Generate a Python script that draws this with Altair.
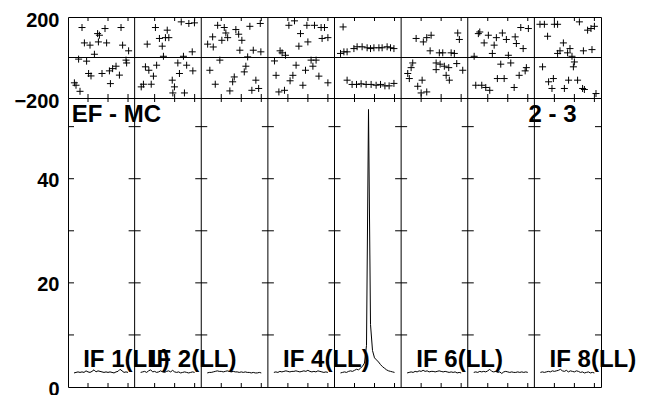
import altair as alt
import pandas as pd

# ---- layout constants (channel units per IF panel) ----
W = 33.3
N_IF = 8

# ---- data ----
CHANNELS = [3, 4, 5, 6, 7, 8, 9, 10, 11, 12, 13, 14, 15, 16,
            17, 18, 19, 20, 21, 22, 23, 24, 25, 26, 27, 28, 29, 30]

AMP_IF1 = [2.7, 2.8, 2.9, 2.8, 2.9, 2.8, 3.1, 2.9, 2.8, 3.0, 3.3, 2.9, 3.1, 3.0,
           2.9, 2.8, 2.9, 2.8, 2.9, 2.8, 2.7, 2.9, 3.0, 3.4, 3.1, 2.8, 2.9, 2.8]
AMP_IF2 = [2.8, 2.9, 3.0, 2.8, 3.1, 3.3, 2.9, 3.0, 2.8, 2.9, 3.1, 2.9, 2.8, 3.0,
           3.1, 2.9, 3.2, 2.9, 2.8, 2.9, 2.7, 2.8, 2.9, 2.8, 2.7, 2.8, 2.9, 2.8]
AMP_IF3 = [2.7, 2.8, 2.8, 2.9, 3.0, 3.1, 3.0, 3.0, 2.9, 3.0, 3.1, 3.0, 2.9, 3.0,
           2.9, 2.9, 2.8, 2.9, 2.8, 2.9, 2.8, 2.8, 2.7, 2.8, 2.7, 2.7, 2.8, 2.7]
AMP_IF4 = [2.8, 2.9, 2.8, 3.0, 2.9, 3.0, 3.1, 3.0, 2.9, 3.0, 3.0, 3.1, 3.0, 2.9,
           3.0, 3.1, 3.0, 3.2, 3.0, 2.9, 3.0, 2.9, 3.1, 3.0, 2.9, 2.8, 2.9, 2.8]
AMP_IF5 = [2.7, 2.8, 2.9, 2.8, 3.0, 3.1, 3.0, 3.2, 3.4, 3.3, 3.6, 4.0, 4.6, 8.0,
           53.3, 12.0, 7.0, 5.6, 5.2, 4.8, 4.3, 3.9, 3.6, 3.3, 3.1, 3.0, 2.9, 2.8]
AMP_IF6 = [2.7, 2.8, 2.9, 2.8, 3.0, 2.9, 3.1, 3.0, 3.2, 3.0, 3.1, 2.9, 3.0, 3.0,
           2.9, 3.0, 3.1, 3.0, 2.9, 3.0, 2.9, 2.8, 2.9, 2.8, 2.9, 2.7, 2.8, 2.7]
AMP_IF7 = [2.8, 2.9, 2.8, 3.0, 2.9, 3.0, 2.9, 3.1, 3.4, 3.0, 2.9, 3.0, 2.8, 2.9,
           2.6, 2.9, 3.0, 2.9, 2.8, 2.9, 2.8, 2.8, 2.9, 2.8, 2.9, 2.8, 2.9, 2.8]
AMP_IF8 = [2.8, 2.9, 2.8, 2.9, 3.0, 2.9, 3.1, 3.0, 3.1, 3.2, 3.4, 3.1, 3.0, 3.2,
           2.9, 3.1, 3.0, 2.9, 3.1, 3.0, 2.8, 2.9, 2.7, 2.8, 2.9, 2.7, 2.8, 2.7]

# phase points per IF: (channel, phase in degrees)
PH_IF1 = [(7, 148), (14.8, 118), (15.7, 110), (18.5, 143), (26.5, 148), (8.2, 72),
          (11, 61), (15.2, 77), (19.3, 72), (27.3, 61), (30.3, 33), (13.2, 16),
          (5.3, -8), (9.3, -18), (29, -13), (29.3, -27), (10.3, -79), (11.5, -91),
          (17, -79), (20.7, -66), (22.3, -55), (24, -43), (25.7, -87), (21.2, -129),
          (3.2, -125), (4, -137), (6, -167)]
PH_IF2 = [(10.4, 148), (23.3, 176), (27.1, 168), (29.9, 171), (16.3, 135), (12.4, 94),
          (15.4, 98), (17.1, 98), (6.3, 66), (13.8, 56), (28.8, 28), (14.4, 6),
          (24.4, 6), (5.4, -46), (7.1, -63), (11, -38), (9.4, -92), (4.4, -132),
          (3.3, -145), (8.3, -132), (21.6, -27), (26, -38), (29.1, -66), (22.4, -79),
          (18.8, -112), (19.9, -145), (19.1, -175), (24.9, -175)]
PH_IF3 = [(8.2, 159), (11.5, 148), (12.3, 121), (13.2, 98), (5.7, 102), (3.2, 66),
          (6, 52), (10.3, 85), (17.3, 138), (18.7, 115), (20.3, 85), (24.3, 154),
          (29.5, 168), (19.3, 36), (26, 36), (29.8, 28), (23.2, 3), (9.3, -13),
          (4.3, -63), (22.3, -43), (21.5, -71), (16.5, -96), (15.7, -120), (7, -132),
          (14.3, -165), (27.3, -112), (28.7, -153), (25.3, -162)]
PH_IF4 = [(10.5, 159), (13.3, 181), (19.5, 159), (23.3, 159), (26.6, 148), (28.3, 148),
          (16.3, 118), (27.1, 94), (30, 98), (20, 77), (15.5, 56), (6.1, 33),
          (7.1, 23), (8.8, 11), (3.3, -17), (14.1, -38), (18.8, -63), (21.6, -13),
          (24.1, -13), (22.5, -43), (12.5, -88), (11.1, -115), (4.1, -88), (25.5, -92),
          (30, -125), (17.5, -137), (8.3, -162), (5.5, -170)]
PH_IF5 = [(4.3, 151), (3, 20), (4.7, 28), (6.3, 28), (9.7, 44), (11.3, 53),
          (13.8, 53), (16.3, 48), (18, 44), (19.7, 48), (22.2, 48), (23.8, 48),
          (26.3, 53), (28, 48), (29.7, 44), (6.3, -112), (8.8, -133), (11, -133),
          (13.3, -130), (15.8, -133), (18.3, -133), (20.8, -137), (23, -133),
          (25.2, -140), (27.3, -140), (29.7, -128)]
PH_IF6 = [(7.5, 94), (11.1, 77), (12.8, 98), (15, 110), (28.3, 121), (29.1, 89),
          (14.5, 33), (19.1, 23), (20.8, 23), (25, 23), (26.6, 20), (5.8, -27),
          (5, -50), (3.3, -79), (4.1, -104), (17.5, -27), (19.5, -33), (17.5, -60),
          (21.6, -43), (23.8, -50), (27.8, -30), (30.8, -63), (22.5, -88), (24.1, -112),
          (10.5, -112), (8.3, -142), (10, -175), (12.8, -170)]
PH_IF7 = [(6, 126), (5.3, 118), (10.3, 110), (14.3, 98), (17.3, 121), (19.3, 89),
          (23.7, 102), (24.3, 69), (26.5, 148), (30.3, 143), (8.2, 72), (13.2, 61),
          (27.7, 44), (3.2, 6), (12.3, 20), (20.3, 11), (16.5, -33), (21.5, -27),
          (29.3, -50), (28.7, -66), (25.7, -88), (14.8, -104), (18.2, -104), (4, -137),
          (7, -137), (9, -148), (11, -162), (23.2, -148)]
PH_IF8 = [(2.8, 164), (5, 164), (10, 164), (11.6, 164), (22.5, 176), (30, 154),
          (28.3, 143), (26.6, 135), (6.6, 105), (14.5, 72), (17.8, 44), (16.6, 23),
          (12.8, 33), (11.6, 20), (18.8, 6), (24.5, 33), (28.8, 39), (4.1, -46),
          (20, -22), (19.5, -46), (9.5, -104), (7.1, -120), (8.8, -153), (15, -153),
          (17.1, -112), (21.6, -112), (24.1, -153), (25, -158), (30.8, -178)]

AMPS = [AMP_IF1, AMP_IF2, AMP_IF3, AMP_IF4, AMP_IF5, AMP_IF6, AMP_IF7, AMP_IF8]
PHASES = [PH_IF1, PH_IF2, PH_IF3, PH_IF4, PH_IF5, PH_IF6, PH_IF7, PH_IF8]

X_TICK_CH = [10, 20, 30]
AMP_MINOR = [10, 20, 30, 40, 50]
PHASE_AXIS_VALUES = [-200, 200]
AMP_AXIS_VALUES = [0, 20, 40]
PHASE_DOMAIN = [-200, 200]
AMP_DOMAIN = [0, 55.5]
IF_LABELS = [1, 2, 4, 6, 8]
BASELINE_LABEL = "EF - MC"
STOKES_LABEL = "2 - 3"

FONT = "Liberation Sans"

# ---- tables ----
amp_df = pd.DataFrame([
    {"ifnum": k + 1, "x": k * W + ch, "amp": a}
    for k, vals in enumerate(AMPS) for ch, a in zip(CHANNELS, vals)
])
ph_df = pd.DataFrame([
    {"ifnum": k + 1, "x": k * W + ch, "phase": p}
    for k, pts in enumerate(PHASES) for ch, p in pts
])
div_df = pd.DataFrame({"x": [k * W for k in range(1, N_IF)]})
xt_pos = [k * W + c for k in range(N_IF) for c in X_TICK_CH]
cross_df = pd.DataFrame([{"x": k * W, "amp": a} for k in range(N_IF + 1) for a in AMP_MINOR])
iflab_df = pd.DataFrame([{"x": (n - 1) * W + 7.6, "amp": 3.85, "t": f"IF {n}(LL)"} for n in IF_LABELS])
top_df = pd.DataFrame([
    {"x": 1.85, "amp": 50.9, "t": BASELINE_LABEL},
    {"x": 230.2, "amp": 50.9, "t": STOKES_LABEL},
])
ph_edge_df = pd.DataFrame([{"x": r, "phase": e} for r in xt_pos for e in PHASE_DOMAIN])
amp_edge_df = pd.DataFrame([{"x": r, "amp": e} for r in xt_pos for e in AMP_DOMAIN])

xs = alt.Scale(domain=[0, N_IF * W], nice=False, zero=False)


def X():
    return alt.X("x:Q", scale=xs, axis=None)


ys_ph = alt.Scale(domain=PHASE_DOMAIN, nice=False, zero=False)
ys_amp = alt.Scale(domain=AMP_DOMAIN, nice=False)

lab_axis = dict(title=None, ticks=False, domain=False, grid=False,
                labelFont=FONT, labelFontWeight="bold", labelFontSize=20,
                labelColor="black", labelPadding=9)

# ---- phase panel ----
ph_points = alt.Chart(ph_df).mark_point(
    shape="M-1,0L1,0M0,-1L0,1", size=49, filled=False, color="black",
    strokeWidth=1, opacity=1
).encode(
    x=X(),
    y=alt.Y("phase:Q", scale=ys_ph,
            axis=alt.Axis(values=PHASE_AXIS_VALUES, labelOffset=3.5, **lab_axis)),
)
ph_div = alt.Chart(div_df).mark_rule(color="black", strokeWidth=1).encode(x=X())
ph_zero = alt.Chart(pd.DataFrame({"phase": [0]})).mark_rule(color="black", strokeWidth=1).encode(
    y=alt.Y("phase:Q", scale=ys_ph))
ph_ticks = alt.Chart(ph_edge_df).mark_tick(orient="vertical", size=8, thickness=1, color="black",
                                           opacity=1, clip=True).encode(
    x=X(), y=alt.Y("phase:Q", scale=ys_ph))

phase_chart = alt.layer(ph_div, ph_zero, ph_ticks, ph_points).properties(width=533, height=81)

# ---- amplitude panel ----
amp_line = alt.Chart(amp_df).mark_line(color="black", strokeWidth=1).encode(
    x=X(),
    y=alt.Y("amp:Q", scale=ys_amp,
            axis=alt.Axis(values=AMP_AXIS_VALUES, labelOffset=2, **lab_axis)),
    detail="ifnum:N",
)
amp_div = alt.Chart(div_df).mark_rule(color="black", strokeWidth=1).encode(x=X())
amp_cross = alt.Chart(cross_df).mark_tick(orient="horizontal", size=12, thickness=1, color="black",
                                          opacity=1, clip=True).encode(
    x=X(), y=alt.Y("amp:Q", scale=ys_amp))
amp_ticks = alt.Chart(amp_edge_df).mark_tick(orient="vertical", size=8, thickness=1, color="black",
                                             opacity=1, clip=True).encode(
    x=X(), y=alt.Y("amp:Q", scale=ys_amp))
txt_style = dict(font=FONT, fontWeight="bold", fontSize=24, align="left",
                 baseline="alphabetic", color="black")
if_text = alt.Chart(iflab_df).mark_text(**txt_style).encode(
    x=X(), y=alt.Y("amp:Q", scale=ys_amp), text="t:N")
top_text = alt.Chart(top_df).mark_text(**txt_style).encode(
    x=X(), y=alt.Y("amp:Q", scale=ys_amp), text="t:N")

amp_chart = alt.layer(amp_div, amp_cross, amp_ticks, amp_line, if_text, top_text).properties(
    width=533, height=289)

chart = alt.vconcat(phase_chart, amp_chart, spacing=0, bounds="flush").properties(
    padding={"left": 5, "top": 2, "right": 0, "bottom": 0},
    background="white",
).configure_view(stroke="black", strokeWidth=1)

chart.save("out.html", embed_options={"renderer": "svg", "actions": False})
